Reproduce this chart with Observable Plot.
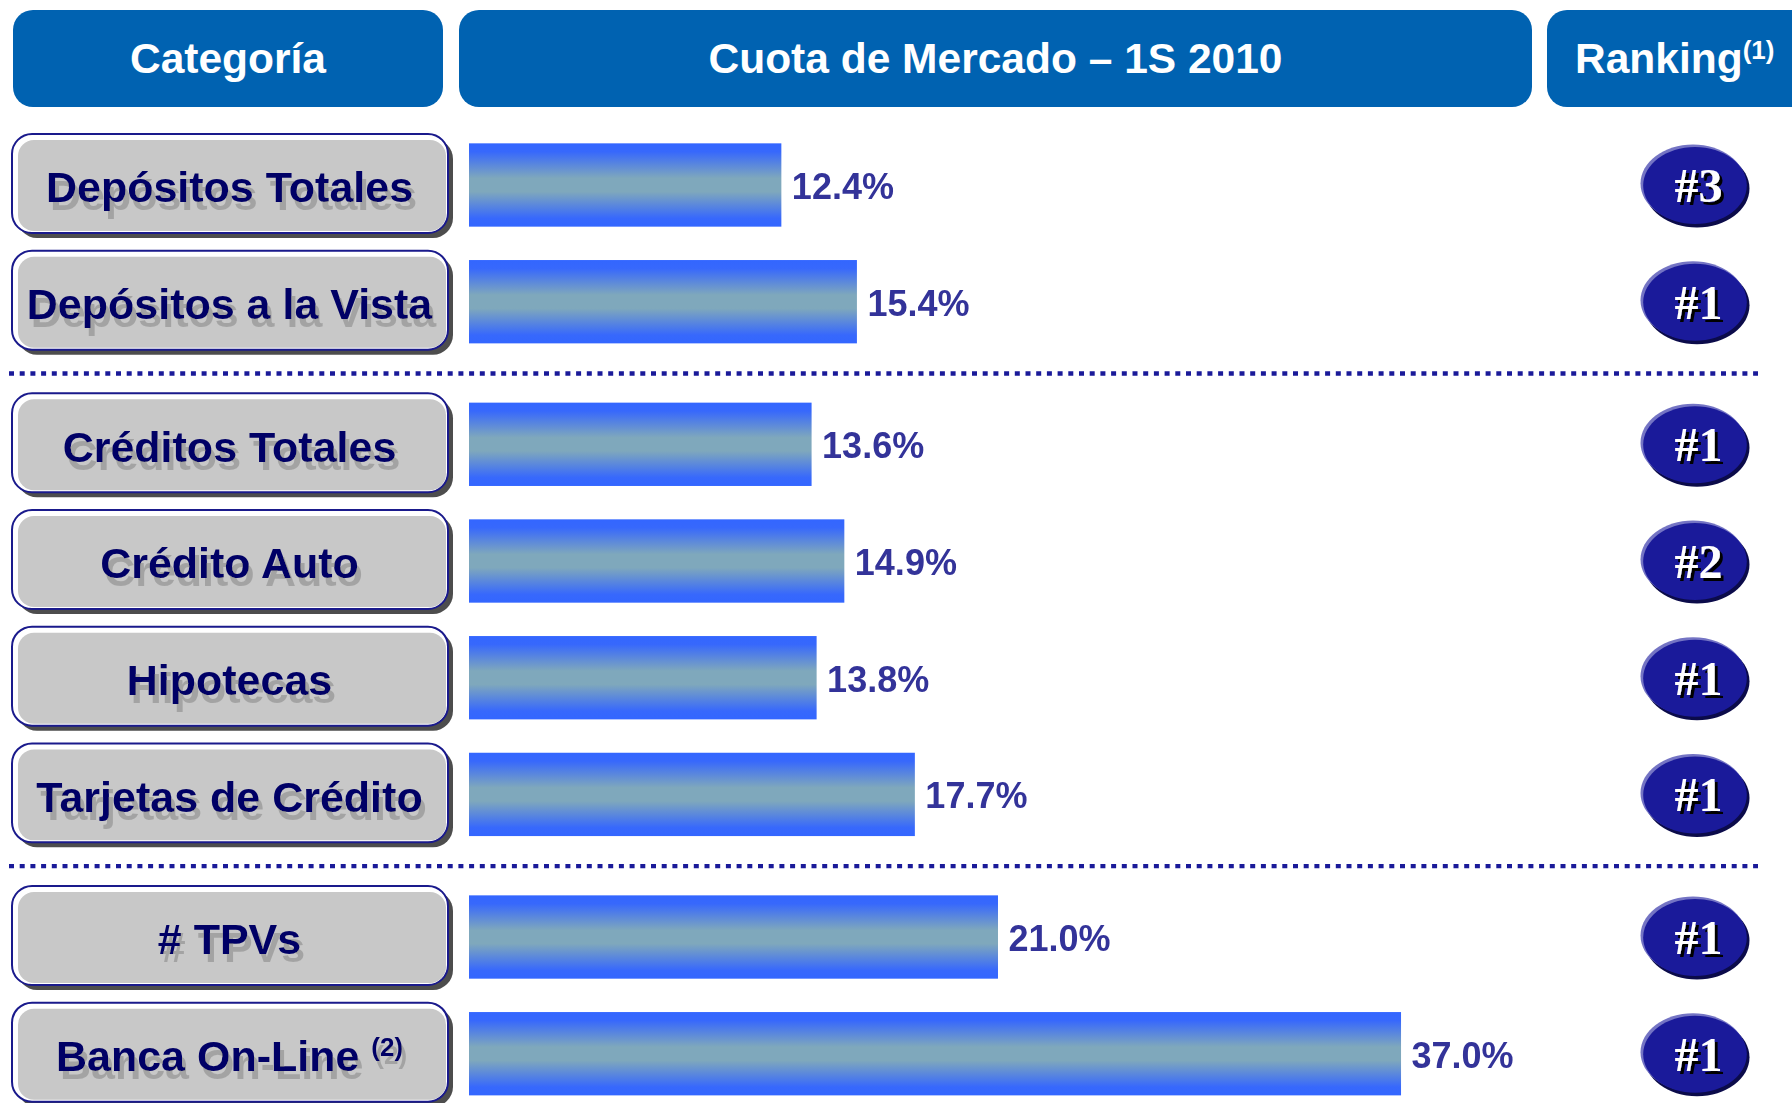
<!DOCTYPE html>
<html>
<head>
<meta charset="utf-8">
<script src="https://cdn.jsdelivr.net/npm/d3@7"></script>
<script src="https://cdn.jsdelivr.net/npm/@observablehq/plot@0.6"></script>
<style>
  html, body { margin: 0; padding: 0; background: #fff; overflow: hidden; }
  #header { position: relative; width: 1792px; height: 117px; overflow: hidden; }
  .hbox { position: absolute; top: 10px; height: 97px; border-radius: 20px; background: #0062B1;
          color: #fff; font: bold 42.5px "Liberation Sans", Arial, sans-serif; display: flex;
          align-items: center; justify-content: center; box-sizing: border-box; white-space: nowrap; }
  .hbox sup { font-size: 26px; position: relative; top: -9px; vertical-align: top; line-height: 1; }
</style>
</head>
<body>
<div id="header"></div>
<div id="chart"></div>
<script>
// ---- Data ----
const headers = ["Categoría", "Cuota de Mercado – 1S 2010", "Ranking"];
const headerNotes = ["", "", "(1)"];
const categories = ["Depósitos Totales", "Depósitos a la Vista", "Créditos Totales", "Crédito Auto",
                    "Hipotecas", "Tarjetas de Crédito", "# TPVs", "Banca On-Line"];
const notes = ["", "", "", "", "", "", "", "(2)"];
const groups = [0, 0, 1, 1, 1, 1, 2, 2];
const shares = [12.4, 15.4, 13.6, 14.9, 13.8, 17.7, 21.0, 37.0];
const rankings = ["#3", "#1", "#1", "#2", "#1", "#1", "#1", "#1"];

// ---- Header (HTML above the SVG) ----
const headerEl = document.getElementById("header");
const hboxes = [
  {left: 13, width: 430, justify: "center", pad: 0},
  {left: 459, width: 1073, justify: "center", pad: 0},
  {left: 1547, width: 270, justify: "flex-start", pad: 28}
];
headers.forEach((h, i) => {
  const d = document.createElement("div");
  d.className = "hbox";
  d.style.left = hboxes[i].left + "px";
  d.style.width = hboxes[i].width + "px";
  d.style.justifyContent = hboxes[i].justify;
  d.style.paddingLeft = hboxes[i].pad + "px";
  d.textContent = h;
  if (headerNotes[i]) {
    const s = document.createElement("sup");
    s.textContent = headerNotes[i];
    d.appendChild(s);
  }
  headerEl.appendChild(d);
});

// ---- Rows ----
const GAP = 0.222; // extra space between groups, in row steps
const rows = categories.map((c, i) => ({
  label: notes[i] ? c + " " + notes[i] : c,
  value: shares[i],
  rank: rankings[i],
  pos: i + GAP * groups[i]
}));
const seps = [];
for (let i = 1; i < rows.length; i++) {
  if (groups[i] !== groups[i - 1]) seps.push((rows[i].pos + rows[i - 1].pos) / 2);
}
const maxPos = d3.max(rows, d => d.pos);

const W = 1792, H = 986;
const STEP = 116.7, Y0 = 68;
const X0 = 469, PX_PER_PCT = 25.19;

const ellipse = {
  draw(ctx, size) {
    const r = Math.sqrt(size / Math.PI);
    const rx = r * 1.346, ry = r, k = 0.5523;
    ctx.moveTo(rx, 0);
    ctx.bezierCurveTo(rx, ry * k, rx * k, ry, 0, ry);
    ctx.bezierCurveTo(-rx * k, ry, -rx, ry * k, -rx, 0);
    ctx.bezierCurveTo(-rx, -ry * k, -rx * k, -ry, 0, -ry);
    ctx.bezierCurveTo(rx * k, -ry, rx, -ry * k, rx, 0);
    ctx.closePath();
  }
};

function addShadowFilter(defs, id, dx, dy, color) {
  const f = defs.append("filter").attr("id", id)
    .attr("filterUnits", "userSpaceOnUse").attr("x", -4000).attr("y", -4000).attr("width", 8000).attr("height", 8000);
  f.append("feOffset").attr("in", "SourceAlpha").attr("dx", dx).attr("dy", dy).attr("result", "off");
  f.append("feFlood").attr("flood-color", color).attr("result", "col");
  f.append("feComposite").attr("in", "col").attr("in2", "off").attr("operator", "in").attr("result", "sh");
  const m = f.append("feMerge");
  m.append("feMergeNode").attr("in", "sh");
  m.append("feMergeNode").attr("in", "SourceGraphic");
}

const defsMark = () => {
  const defs = d3.create("svg:defs");
  const g = defs.append("linearGradient").attr("id", "barGrad")
    .attr("x1", 0).attr("x2", 0).attr("y1", 0).attr("y2", 1);
  [[0, "#3366FF"], [0.1, "#3768FC"], [0.42, "#7FA8BC"], [0.58, "#7FA8BC"], [0.9, "#3768FC"], [1, "#3366FF"]]
    .forEach(([o, c]) => g.append("stop").attr("offset", o).attr("stop-color", c));
  addShadowFilter(defs, "catShadow", 4, 8, "#a3a3a3");
  addShadowFilter(defs, "rankShadow", 2.5, 2.5, "#000000");
  return defs.node();
};

const BOX_L = 12, BOX_R = 448;
const catFont = {fontFamily: "Liberation Sans, Arial, sans-serif", fontWeight: "bold", fontSize: 43};

const chart = Plot.plot({
  width: W,
  height: H,
  margin: 0,
  x: {domain: [0, 40], range: [X0, X0 + 40 * PX_PER_PCT], axis: null},
  y: {domain: [0, maxPos], range: [Y0, Y0 + maxPos * STEP], axis: null},
  style: {background: "white", fontFamily: "Liberation Sans, Arial, sans-serif"},
  marks: [
    defsMark,
    // category boxes: shadow, bevel, face
    Plot.rect(rows, {y1: d => d.pos - 0.437, y2: d => d.pos + 0.411, insetLeft: BOX_L + 5, insetRight: W - BOX_R - 5,
      dy: 5, rx: 20, fill: "#4d4d4d"}),
    Plot.rect(rows, {y1: d => d.pos - 0.437, y2: d => d.pos + 0.411, insetLeft: BOX_L, insetRight: W - BOX_R,
      rx: 20, fill: "#ffffff", stroke: "#1a1a8c", strokeWidth: 2}),
    Plot.rect(rows, {y1: d => d.pos - 0.437, y2: d => d.pos + 0.411, insetLeft: BOX_L + 6, insetRight: W - BOX_R + 2,
      insetTop: 6, insetBottom: 2, rx: 16, fill: "#C8C8C8"}),
    // category labels (shadow via filter)
    Plot.text(rows, {y: "pos", text: "label", frameAnchor: "left", textAnchor: "middle", dx: 229, dy: 3,
      fill: "#000066", ...catFont}),
    // separators
    Plot.ruleY(seps, {y: d => d, insetLeft: 9, insetRight: W - 1758, stroke: "#1a1a99", strokeWidth: 4.3,
      strokeDasharray: "5,5.7"}),
    // bars
    Plot.rectX(rows, {x: "value", y1: d => d.pos - 0.357, y2: d => d.pos + 0.357, fill: "url(#barGrad)"}),
    Plot.text(rows, {x: "value", y: "pos", text: d => d.value.toFixed(1) + "%", dx: 10, dy: 2, textAnchor: "start",
      fill: "#333399", fontWeight: "bold", fontSize: 36, fontFamily: "Liberation Sans, Arial, sans-serif"}),
    // ranking ellipses
    Plot.dot(rows, {y: "pos", frameAnchor: "right", dx: -(W - 1694.5) + 2, dy: 3, r: 39, symbol: ellipse,
      fill: "#0b0b4a", stroke: "none"}),
    Plot.dot(rows, {y: "pos", frameAnchor: "right", dx: -(W - 1694.5) - 2, dy: -2, r: 39, symbol: ellipse,
      fill: "#7474c4", stroke: "none"}),
    Plot.dot(rows, {y: "pos", frameAnchor: "right", dx: -(W - 1694.5), r: 38.5, symbol: ellipse,
      fill: "#1a1a9a", stroke: "none"}),
    Plot.text(rows, {y: "pos", text: "rank", frameAnchor: "right", textAnchor: "middle", dx: -(W - 1698), dy: 1,
      fill: "#ffffff", fontFamily: "Liberation Serif, Times New Roman, serif", fontWeight: "bold", fontSize: 48})
  ]
});

// shadows: text mark groups in order (category labels, value labels, rank labels)
const textGroups = d3.select(chart).selectAll('g[aria-label="text"]').nodes();
if (textGroups.length >= 3) {
  d3.select(textGroups[0]).attr("filter", "url(#catShadow)");
  d3.select(textGroups[2]).attr("filter", "url(#rankShadow)");
}

// superscript footnote markers inside category labels
d3.select(chart).selectAll("text").each(function () {
  const t = this.textContent;
  const note = notes.find(n => n && t.endsWith(" " + n));
  if (note) {
    const main = t.slice(0, t.length - note.length);
    const sel = d3.select(this);
    sel.text(null);
    sel.append("tspan").text(main);
    sel.append("tspan").attr("font-size", 26).attr("dy", -15).text(note);
  }
});

document.getElementById("chart").appendChild(chart);
</script>
</body>
</html>
